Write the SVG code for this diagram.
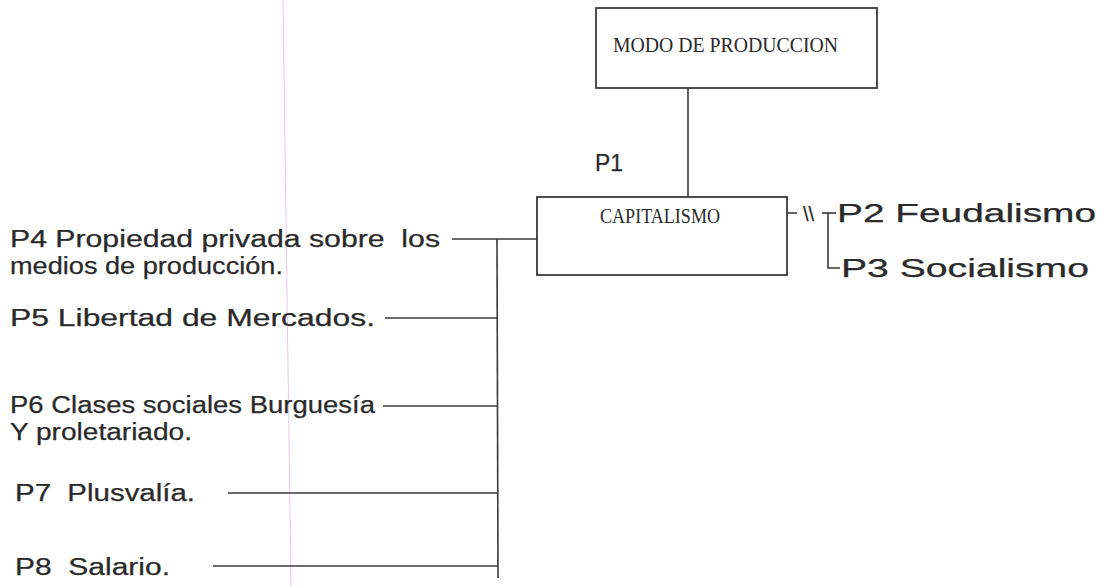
<svg xmlns="http://www.w3.org/2000/svg" width="1104" height="586" viewBox="0 0 1104 586">
<style>
.t{font-family:"Liberation Sans",Arial,sans-serif;font-size:23px;fill:#2a2a2a;stroke:#2a2a2a;stroke-width:0.25}
.r{font-size:25px}
.s{font-family:"Liberation Serif","Times New Roman",serif;font-size:21px;fill:#2a2a2a}
.c{stroke:#3a3a3a;stroke-width:1.6;fill:none}
.b{stroke:#3a3a3a;stroke-width:1.8;fill:none}
</style>
<rect width="1104" height="586" fill="#ffffff"/>
<line id="margin-line" x1="283" y1="0" x2="291" y2="586" stroke="#e8c8e6" stroke-width="1"/>
<g id="connectors">
<line class="c" x1="688" y1="88" x2="688" y2="197"/>
<line class="c" x1="452" y1="239" x2="537" y2="239"/>
<line class="c" x1="497" y1="239" x2="498" y2="578"/>
<line class="c" x1="385" y1="318" x2="497" y2="318"/>
<line class="c" x1="383" y1="406" x2="497" y2="406"/>
<line class="c" x1="228" y1="493" x2="498" y2="493"/>
<line class="c" x1="213" y1="566" x2="498" y2="566"/>
<line class="c" x1="787" y1="213" x2="797" y2="213"/>
<polyline class="c" points="822,213 836,213"/>
<polyline class="c" points="828,213 828,268 840,268"/>
</g>
<g id="node-modo">
<rect class="b" x="596" y="8" width="281" height="80"/>
<text class="s" x="613" y="52" textLength="225" lengthAdjust="spacingAndGlyphs">MODO DE PRODUCCION</text>
</g>
<g id="node-p1">
<text class="t" x="595" y="171" textLength="28" lengthAdjust="spacingAndGlyphs">P1</text>
</g>
<g id="node-capitalismo">
<rect class="b" x="537" y="197" width="250" height="78"/>
<text class="s" x="600" y="223" style="font-size:22px" textLength="120" lengthAdjust="spacingAndGlyphs">CAPITALISMO</text>
</g>
<g id="node-sep">
<text class="t" x="803" y="221" style="font-size:20px">\\</text>
</g>
<g id="node-p2">
<text class="t r" x="837" y="222" textLength="259" lengthAdjust="spacingAndGlyphs">P2 Feudalismo</text>
</g>
<g id="node-p3">
<text class="t r" x="841" y="277" textLength="248" lengthAdjust="spacingAndGlyphs">P3 Socialismo</text>
</g>
<g id="node-p4">
<text class="t" x="10" y="247" textLength="430" lengthAdjust="spacingAndGlyphs">P4 Propiedad privada sobre&#160; los</text>
<text class="t" x="10" y="274" textLength="273" lengthAdjust="spacingAndGlyphs">medios de producción.</text>
</g>
<g id="node-p5">
<text class="t" x="10" y="326" textLength="365" lengthAdjust="spacingAndGlyphs">P5 Libertad de Mercados.</text>
</g>
<g id="node-p6">
<text class="t" x="10" y="413" textLength="365" lengthAdjust="spacingAndGlyphs">P6 Clases sociales Burguesía</text>
<text class="t" x="10" y="440" textLength="182" lengthAdjust="spacingAndGlyphs">Y proletariado.</text>
</g>
<g id="node-p7">
<text class="t" x="15" y="501" textLength="180" lengthAdjust="spacingAndGlyphs">P7&#160; Plusvalía.</text>
</g>
<g id="node-p8">
<text class="t" x="15" y="575" textLength="155" lengthAdjust="spacingAndGlyphs">P8&#160; Salario.</text>
</g>
</svg>
